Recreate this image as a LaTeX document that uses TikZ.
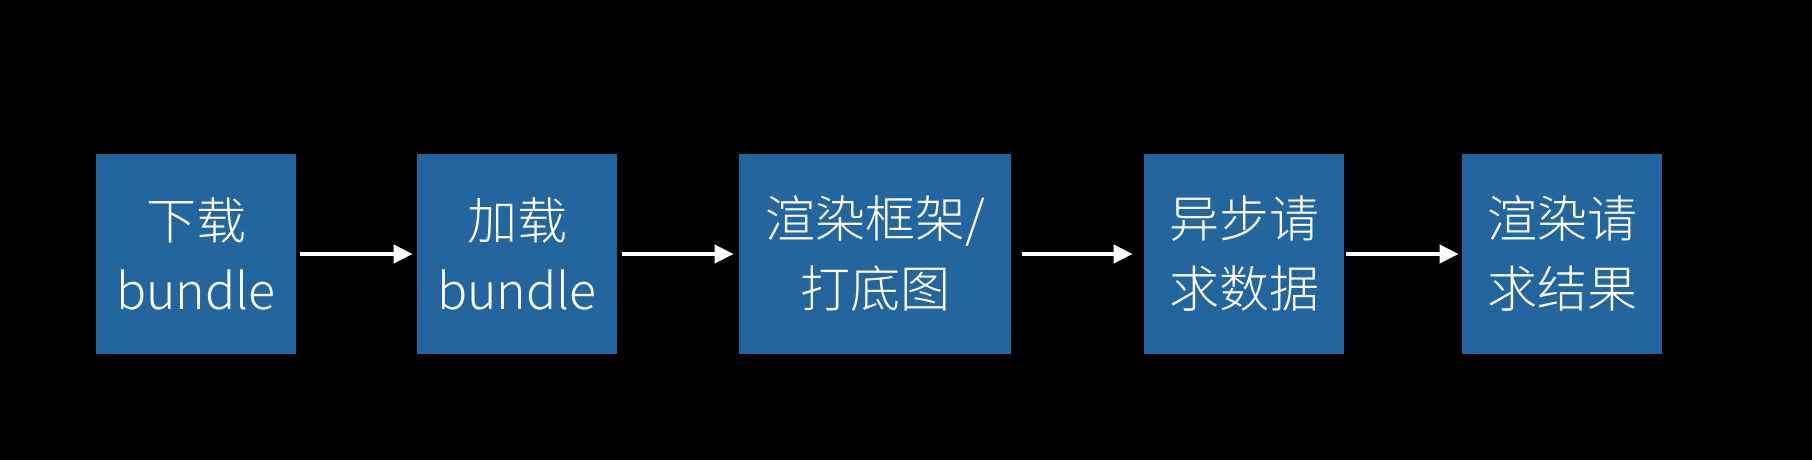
\documentclass[tikz,border=0pt]{standalone}
\usepackage{fontspec}
\setmainfont{Noto Sans CJK SC}[UprightFont={* Light}]
\newfontfamily\cjk{Noto Sans CJK SC}[UprightFont={* Light}]
\usetikzlibrary{arrows.meta}
\definecolor{boxblue}{RGB}{35,101,158}
\newcommand\lowline[1]{\raisebox{-1.7pt}{#1}}
\tikzset{
  stepbox/.style={fill=boxblue, draw=none, minimum height=100pt, inner sep=0pt,
    text=white, align=center, font=\cjk\fontsize{25pt}{35pt}\selectfont},
  arr/.style={draw=white, line width=2pt, -{Triangle[length=9.5pt,width=9pt]}}
}
\begin{document}
\begin{tikzpicture}[x=0.5pt,y=-0.5pt]
\fill[black] (0,0) rectangle (1812,460);
\useasboundingbox (0,0) rectangle (1812,460);
\node[stepbox, minimum width=100pt] (a) at (196,254) {\lowline{下载}\\\lowline{bundle}};
\node[stepbox, minimum width=100pt] (b) at (517,254) {\lowline{加载}\\\lowline{bundle}};
\node[stepbox, minimum width=136pt] (c) at (875,254) {\lowline{渲染框架/}\\\lowline{打底图}};
\node[stepbox, minimum width=100pt] (d) at (1244,254) {\lowline{异步请}\\\lowline{求数据}};
\node[stepbox, minimum width=100pt] (e) at (1562,254) {\lowline{渲染请}\\\lowline{求结果}};
\draw[arr, shorten <=2pt, shorten >=2pt] (a) -- (b);
\draw[arr, shorten <=2.5pt, shorten >=2.5pt] (b) -- (c);
\draw[arr, shorten <=5.5pt, shorten >=5.5pt] (c) -- (d);
\draw[arr, shorten <=1pt, shorten >=1.5pt] (d) -- (e);
\end{tikzpicture}
\end{document}
